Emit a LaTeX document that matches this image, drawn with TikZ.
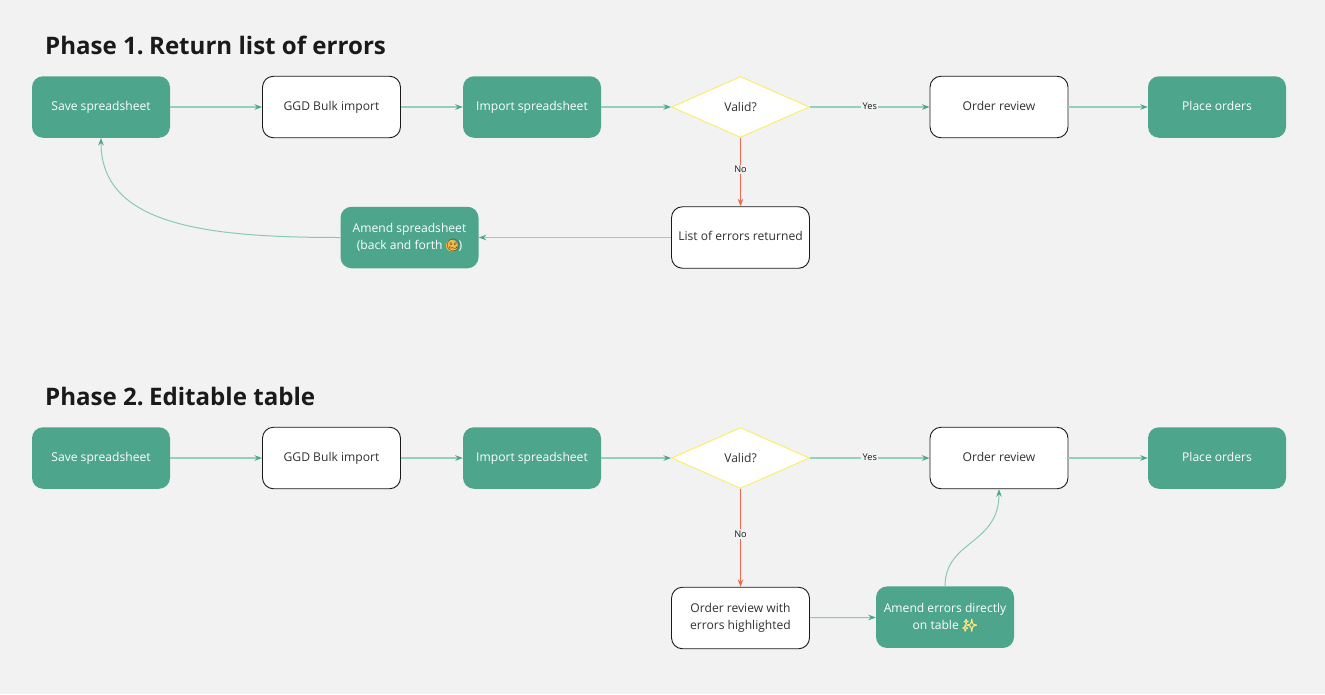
\documentclass[tikz,border=0pt]{standalone}
\usepackage{fontspec}
\setmainfont{Open Sans}
\newfontfamily\emojifont{Noto Emoji}
\newfontfamily\sparklefont[FakeBold=4]{Noto Emoji}
\usetikzlibrary{shapes.geometric,arrows.meta}
\definecolor{bg}{HTML}{F2F2F2}
\definecolor{grn}{HTML}{4DA58B}
\definecolor{lnk}{HTML}{94D0BE}
\definecolor{redl}{HTML}{EC6A50}
\definecolor{ylw}{HTML}{FAEE6E}
\definecolor{ink}{HTML}{1A1A1A}
\definecolor{face}{HTML}{F0B848}
\definecolor{spark}{HTML}{FFE680}
\newcommand{\facemoji}{\tikz[baseline=0pt]{\path[use as bounding box] (0pt,0pt) rectangle (0pt,0pt);\fill[face] (6pt,4pt) circle (5.8pt);}{\emojifont\textcolor{ink!75!orange}{🥴}}\kern-2.5pt}
\tikzset{
  base/.style={minimum width=138pt,minimum height=61.5pt,inner sep=0pt,rounded corners=11pt,align=center,font=\fontsize{12.1pt}{17pt}\selectfont},
  single/.style={text height=9pt,text depth=0pt},
  greenbox/.style={base,fill=grn,text=white},
  whitebox/.style={base,fill=white,draw=ink,line width=0.9pt,text=ink!90},
  decision/.style={diamond,aspect=2.26,minimum width=138pt,minimum height=61pt,inner sep=0pt,fill=white,draw=ylw,line width=1pt,text=ink!90,font=\fontsize{12.1pt}{17pt}\selectfont},
  link/.style={draw=lnk,line width=1.2pt,-{Stealth[length=7.5pt,width=5.5pt,color=grn]}},
  curvelink/.style={draw=lnk!85!grn,line width=1pt,-{Stealth[length=7.5pt,width=5.5pt,color=grn]}},
  nolink/.style={draw=redl,line width=1pt,-{Stealth[length=7.5pt,width=5.5pt]}},
  lab/.style={fill=bg,inner sep=1.5pt,font=\fontsize{9.2pt}{11pt}\selectfont,text=ink},
  heading/.style={anchor=base west,inner sep=0pt,font=\bfseries\fontsize{24.1pt}{28pt}\selectfont,text=ink}
}
\begin{document}
\begin{tikzpicture}[x=1pt,y=-1pt]
\fill[bg] (0,0) rectangle (1325,694);
\useasboundingbox (0,0) rectangle (1325,694);
\node[heading] (t1) at (45,54) {Phase 1.\kern-1pt\ Return list of errors};
\node[heading] (t2) at (45,405) {Phase 2.\kern-1pt\ Editable table};
% Phase 1
\node[greenbox,single] (a1) at (101,107) {\raisebox{1.2pt}{Save spreadsheet}};
\node[whitebox,single] (a2) at (331.5,107) {\raisebox{1.2pt}{GGD Bulk import}};
\node[greenbox,single] (a3) at (532,107) {\raisebox{1.2pt}{Import spreadsheet}};
\node[decision] (a4) at (740.5,107) {\raisebox{1.2pt}{Valid?}};
\node[whitebox,single] (a5) at (999,107) {\raisebox{1.2pt}{Order review}};
\node[greenbox,single] (a6) at (1217,107) {\raisebox{1.2pt}{Place orders}};
\node[whitebox,single] (a7) at (740.5,237.5) {\raisebox{1.2pt}{List of errors returned}};
\node[greenbox] (a8) at (409.5,237.5) {\raisebox{1pt}{Amend spreadsheet}\\\raisebox{1pt}{(back and forth \facemoji)}};
\draw[link] (a1) -- (a2);
\draw[link] (a2) -- (a3);
\draw[link] (a3) -- (a4);
\draw[link] (a4) -- node[lab,yshift=0.5pt] (ly1) {\raisebox{1.5pt}{Yes}} (a5);
\draw[link] (a5) -- (a6);
\draw[nolink] (a4) -- node[lab,pos=.46] (ln1) {No} (a7);
\draw[link] (a7) -- (a8);
\draw[curvelink] (a8.west) .. controls (205,237.5) and (101,225) .. (a1.south);
% Phase 2
\node[greenbox,single] (b1) at (101,458) {\raisebox{1.2pt}{Save spreadsheet}};
\node[whitebox,single] (b2) at (331.5,458) {\raisebox{1.2pt}{GGD Bulk import}};
\node[greenbox,single] (b3) at (532,458) {\raisebox{1.2pt}{Import spreadsheet}};
\node[decision] (b4) at (740.5,458) {\raisebox{1.2pt}{Valid?}};
\node[whitebox,single] (b5) at (999,458) {\raisebox{1.2pt}{Order review}};
\node[greenbox,single] (b6) at (1217,458) {\raisebox{1.2pt}{Place orders}};
\node[whitebox] (b7) at (740.5,618) {\raisebox{1pt}{Order review with}\\\raisebox{1pt}{errors highlighted}};
\node[greenbox] (b8) at (945,617.2) {\raisebox{1pt}{Amend errors directly}\\\raisebox{1pt}{on table {\sparklefont\textcolor{spark}{✨}}}};
\draw[link] (b1) -- (b2);
\draw[link] (b2) -- (b3);
\draw[link] (b3) -- (b4);
\draw[link] (b4) -- node[lab,yshift=0.5pt] (ly2) {\raisebox{1.5pt}{Yes}} (b5);
\draw[link] (b5) -- (b6);
\draw[nolink] (b4) -- node[lab,pos=.46] (ln2) {No} (b7);
\draw[curvelink] (b7) -- (b8);
\draw[curvelink] (b8.north) .. controls (945,540) and (999,545) .. (b5.south);
\end{tikzpicture}
\end{document}
